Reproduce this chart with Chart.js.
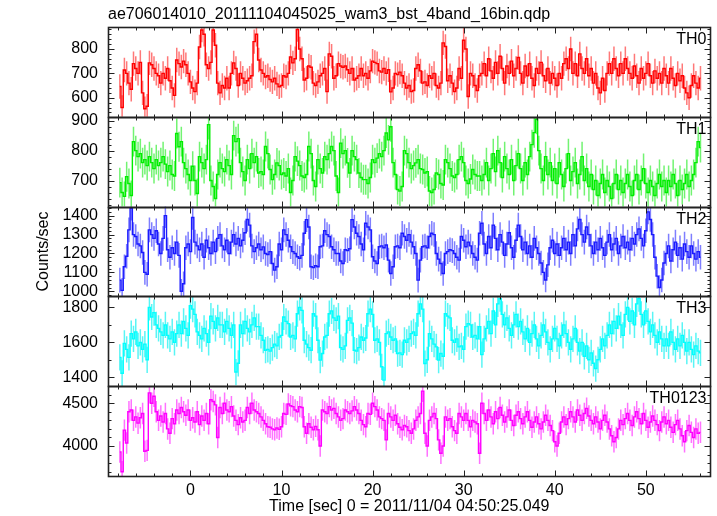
<!DOCTYPE html>
<html>
<head>
<meta charset="utf-8">
<script src="https://cdn.jsdelivr.net/npm/chart.js@4.4.1/dist/chart.umd.min.js"></script>
<style>
  html, body { margin: 0; padding: 0; background: #fff; }
  canvas { display: block; }
</style>
</head>
<body>
<canvas id="c" width="717" height="516"></canvas>
<script>
// light curve, 0.25 s bins starting at -7.75 s
const T0 = -7.75;
const BIN = 0.25;

const panelNames = ['TH0', 'TH1', 'TH2', 'TH3', 'TH0123'];

const th0 = [
  646,560,714,700,660,635,740,720,700,745,620,555,565,743,735,720,
  700,690,660,700,680,720,670,640,610,755,740,726,750,735,700,665,
  640,625,660,808,878,860,735,720,745,878,815,660,620,650,640,680,
  640,700,743,720,650,700,680,660,670,680,690,830,860,755,714,700,
  685,690,675,665,680,657,645,650,690,685,700,767,743,760,880,800,
  760,673,680,730,725,660,650,665,690,700,720,625,780,770,680,690,
  740,730,725,730,715,700,720,673,680,690,720,690,700,680,710,750,
  745,740,710,705,720,700,715,624,640,700,695,705,690,660,640,650,
  625,630,720,735,710,660,665,650,690,680,700,650,640,660,825,810,
  670,690,660,625,640,720,680,836,800,605,700,690,650,630,690,700,
  740,690,760,710,680,745,700,770,720,660,730,700,750,690,720,765,
  700,660,730,690,740,680,650,720,700,745,690,670,720,660,700,680,
  650,700,680,740,760,720,800,700,740,690,780,720,700,760,690,720,
  660,700,640,620,680,630,700,740,700,760,720,690,740,700,760,720,
  700,680,730,690,660,720,680,700,740,690,660,710,680,700,660,720,
  690,660,720,680,650,700,670,690,640,620,600,650,690,660,640,680
];

const th1 = [
  693,660,647,713,690,650,830,800,780,790,760,770,750,780,760,740,
  770,750,760,780,755,730,750,720,715,857,813,830,760,740,720,700,
  748,700,657,780,760,740,770,887,700,680,640,720,760,740,730,770,
  750,720,850,830,840,760,730,700,770,740,790,760,780,725,730,720,
  814,790,737,703,720,759,750,720,725,715,740,660,700,780,765,750,
  715,710,720,814,790,700,680,770,740,725,780,770,790,814,800,715,
  660,825,790,800,759,725,800,780,770,725,710,703,703,690,710,770,
  760,775,790,780,800,859,836,880,760,720,670,665,680,800,790,760,
  740,750,759,770,740,737,725,730,665,660,670,725,720,690,685,770,
  760,740,715,710,720,770,780,760,700,690,705,737,720,715,715,700,
  720,760,700,740,790,730,800,760,710,780,740,720,770,700,750,790,
  740,700,760,720,780,820,860,905,800,740,700,780,720,760,700,740,
  690,760,720,680,740,790,700,730,760,690,720,780,700,740,680,720,
  670,700,650,690,720,660,700,680,640,690,720,670,700,660,690,720,
  680,650,700,720,670,700,740,690,660,700,680,650,690,720,680,700,
  660,700,680,720,690,650,700,670,690,720,680,700,720,760,830,810
];

const th2 = [
  1059,1005,1130,1185,1325,1440,1300,1290,1250,1240,1205,1100,1090,1325,1300,1280,
  1320,1250,1200,1280,1400,1220,1180,1230,1200,1260,1190,1000,1040,1230,1250,1210,
  1390,1260,1240,1220,1250,1180,1270,1230,1200,1260,1210,1280,1300,1240,1220,1270,
  1200,1260,1300,1250,1280,1240,1270,1310,1380,1350,1240,1210,1230,1250,1220,1235,
  1200,1195,1210,1147,1112,1130,1250,1220,1325,1300,1270,1236,1210,1200,1183,1175,
  1190,1307,1379,1340,1130,1125,1135,1130,1236,1240,1320,1300,1290,1236,1220,1200,
  1200,1160,1147,1220,1215,1225,1379,1340,1307,1290,1250,1220,1360,1340,1325,1183,
  1160,1147,1236,1240,1230,1245,1165,1094,1130,1236,1240,1230,1307,1290,1270,1300,
  1260,1236,1200,1059,1165,1236,1240,1230,1290,1307,1300,1200,1170,1147,1094,1200,
  1210,1220,1215,1200,1180,1165,1290,1270,1236,1260,1240,1200,1180,1165,1307,1360,
  1250,1200,1290,1230,1350,1280,1220,1300,1260,1190,1250,1310,1230,1180,1270,1350,
  1290,1220,1260,1200,1240,1180,1280,1230,1200,1150,1100,1060,1140,1230,1270,1200,
  1250,1190,1230,1280,1220,1260,1200,1300,1240,1330,1380,1300,1260,1340,1300,1240,
  1200,1260,1220,1280,1230,1190,1260,1300,1220,1250,1280,1200,1240,1290,1230,1260,
  1220,1280,1250,1300,1330,1280,1240,1320,1420,1380,1300,1180,1080,1020,1060,1150,
  1200,1240,1160,1220,1260,1190,1230,1170,1250,1210,1180,1240,1200,1170,1210,1180
];

const th3 = [
  1514,1423,1594,1560,1514,1650,1620,1660,1580,1600,1560,1590,1500,1800,1745,1770,
  1700,1680,1660,1640,1700,1640,1620,1660,1600,1650,1700,1650,1720,1680,1640,1810,
  1790,1760,1660,1640,1620,1680,1650,1600,1750,1720,1680,1740,1700,1700,1660,1720,
  1680,1640,1700,1430,1480,1700,1650,1720,1680,1660,1700,1740,1690,1690,1640,1612,
  1555,1560,1550,1570,1590,1580,1631,1640,1745,1720,1707,1631,1640,1620,1764,1800,
  1783,1612,1590,1570,1555,1764,1750,1612,1498,1536,1631,1640,1764,1780,1740,1726,
  1750,1570,1560,1580,1726,1740,1710,1555,1550,1570,1631,1612,1625,1764,1790,1760,
  1612,1620,1600,1460,1384,1650,1660,1631,1612,1620,1536,1540,1530,1612,1600,1620,
  1650,1660,1640,1764,1820,1790,1479,1500,1650,1620,1590,1574,1498,1536,1520,1764,
  1750,1740,1612,1600,1620,1574,1580,1560,1690,1707,1700,1631,1640,1620,1690,1530,
  1620,1680,1720,1650,1780,1700,1820,1850,1760,1700,1740,1680,1640,1700,1760,1690,
  1720,1660,1620,1680,1600,1650,1700,1620,1580,1640,1700,1660,1600,1560,1620,1680,
  1620,1580,1640,1700,1650,1600,1560,1620,1680,1600,1550,1600,1520,1580,1500,1540,
  1480,1450,1500,1560,1620,1580,1640,1700,1650,1720,1680,1750,1700,1640,1760,1800,
  1720,1780,1700,1820,1850,1760,1700,1780,1720,1660,1700,1640,1600,1660,1620,1580,
  1620,1580,1660,1600,1560,1620,1580,1640,1600,1550,1600,1560,1530,1580,1550,1540
];

const th0123 = [
  3930,3700,4186,4035,4400,4420,4300,4340,4267,4330,4380,3940,3950,4620,4500,4580,
  4400,4300,4350,4280,4380,4200,4150,4320,4260,4420,4380,4450,4400,4360,4420,4300,
  4330,4280,4400,4250,4350,4300,4380,4260,4540,4520,4480,4100,4450,4380,4500,4420,
  4400,4460,4350,4300,4250,4330,4280,4300,4450,4380,4500,4420,4400,4380,4340,4300,
  4260,4226,4220,4200,4190,4210,4195,4226,4380,4370,4490,4470,4460,4420,4400,4460,
  4450,4226,4150,4260,4220,4190,4230,4190,4000,4420,4400,4380,4460,4420,4440,4380,
  4340,4300,4320,4420,4400,4380,4410,4460,4420,4380,4300,4250,4226,4380,4370,4500,
  4460,4420,4340,4320,4300,4072,4380,4340,4300,4360,4260,4220,4190,4240,4226,4180,
  4150,4200,4300,4340,4380,4640,4150,4000,4300,4340,4380,4320,4072,3917,4000,4340,
  4300,4320,4226,4180,4150,4380,4340,4300,4380,4300,4226,4300,4280,4260,3917,4500,
  4380,4300,4420,4340,4260,4400,4320,4450,4360,4280,4340,4420,4300,4240,4360,4400,
  4320,4260,4340,4400,4300,4220,4280,4340,4260,4200,4280,4360,4300,4240,4180,4050,
  4000,4150,4280,4340,4250,4320,4400,4340,4280,4420,4360,4300,4380,4440,4350,4300,
  4260,4340,4280,4200,4300,4360,4280,4200,4120,4050,4100,4200,4300,4250,4320,4380,
  4300,4240,4340,4400,4320,4260,4380,4300,4220,4280,4350,4300,4250,4180,4280,4340,
  4260,4300,4220,4160,4250,4300,4200,4120,4050,4180,4240,4160,4100,4200,4150,4160
];

const series = [th0, th1, th2, th3, th0123];

// half length of the error bars (counts/sec)
const errHalf = [50, 50, 65, 75, 125];

// axis ranges and tick labels
const xMin = -9.05, xMax = 57.1;
const xTickLabels = [0, 10, 20, 30, 40, 50];
const yMin = [522, 613, 973, 1349, 3651];
const yMax = [890, 913, 1448, 1863, 4698];
const yTickLabels = [
  [600, 700, 800],
  [700, 800, 900],
  [1000, 1100, 1200, 1300, 1400],
  [1400, 1600, 1800],
  [4000, 4500]
];
const yMinorStep = [20, 20, 20, 100, 100];
const yMajorStep = [100, 100, 100, 200, 500];

const lineColors = ['#ff0000', '#00ee00', '#1a1aff', '#00ffff', '#ff00ff'];
const errColors = ['rgba(255,30,30,0.6)', 'rgba(20,235,20,0.6)', 'rgba(40,40,255,0.6)',
                   'rgba(0,240,240,0.65)', 'rgba(255,20,255,0.6)'];

const FONT = "'Liberation Sans', Arial, Helvetica, sans-serif";

const panels = {
  id: 'panels',
  beforeDatasetDraw(chart, args) {
    const k = args.index;
    const ds = chart.data.datasets[k];
    const y = chart.scales[ds.yAxisID];
    const x = chart.scales.x;
    const ctx = chart.ctx;
    ctx.save();
    ctx.beginPath();
    ctx.rect(chart.chartArea.left, y.top, chart.chartArea.width, y.bottom - y.top);
    ctx.clip();
    ctx.strokeStyle = errColors[k];
    ctx.lineWidth = 1.5;
    ctx.beginPath();
    ds.data.forEach(p => {
      const px = x.getPixelForValue(p.x);
      ctx.moveTo(px, y.getPixelForValue(p.y - errHalf[k]));
      ctx.lineTo(px, y.getPixelForValue(p.y + errHalf[k]));
    });
    ctx.stroke();
  },
  afterDatasetDraw(chart) {
    chart.ctx.restore();
  },
  afterDraw(chart) {
    const { ctx, chartArea: a, scales } = chart;
    const x = scales.x;
    ctx.save();
    ctx.strokeStyle = '#222';
    const seg = (x1, y1, x2, y2) => { ctx.moveTo(x1, y1); ctx.lineTo(x2, y2); };

    panelNames.forEach((name, k) => {
      const y = scales['y' + k];
      const top = Math.round(y.top) + 0.5, bot = Math.round(y.bottom) + 0.5;
      const left = Math.round(a.left) + 0.5, right = Math.round(a.right) - 0.5;
      ctx.lineWidth = 1;
      ctx.beginPath();
      // time ticks, major every 10 s, minor every 2 s
      for (let t = -8; t <= xMax; t += 2) {
        const px = Math.round(x.getPixelForValue(t)) + 0.5;
        const len = t % 10 === 0 ? 6 : 3;
        seg(px, top, px, top + len);
        seg(px, bot, px, bot - len);
      }
      // rate ticks
      const st = yMinorStep[k];
      for (let v = Math.ceil(y.min / st) * st; v <= y.max; v += st) {
        const py = Math.round(y.getPixelForValue(v)) + 0.5;
        const len = v % yMajorStep[k] === 0 ? 6 : 3;
        seg(left, py, left + len, py);
        seg(right, py, right - len, py);
      }
      ctx.stroke();
      ctx.lineWidth = 1.6;
      ctx.strokeRect(left, top, right - left, bot - top);

      ctx.fillStyle = '#000';
      ctx.font = '16px ' + FONT;
      ctx.textAlign = 'right';
      ctx.textBaseline = 'alphabetic';
      ctx.fillText(name, a.right - 4, y.top + 17);
    });

    ctx.fillStyle = '#000';
    ctx.font = '16px ' + FONT;
    ctx.textAlign = 'left';
    ctx.textBaseline = 'alphabetic';
    ctx.fillText('ae706014010_20111104045025_wam3_bst_4band_16bin.qdp', a.left, 19);

    ctx.textAlign = 'center';
    ctx.fillText('Time [sec] 0 = 2011/11/04 04:50:25.049', (a.left + a.right) / 2, 511);

    ctx.translate(48, (a.top + a.bottom) / 2);
    ctx.rotate(-Math.PI / 2);
    ctx.fillText('Counts/sec', 0, 0);
    ctx.restore();
  }
};

const scales = {
  x: {
    type: 'linear',
    min: xMin,
    max: xMax,
    grid: { display: false, drawTicks: false },
    border: { display: false },
    ticks: { color: '#000', font: { family: FONT, size: 16 }, padding: 5, maxRotation: 0, autoSkip: false,
             callback: v => String(v) },
    afterBuildTicks: s => { s.ticks = xTickLabels.map(v => ({ value: v })); },
    afterFit: s => { s.height = 40; }
  }
};
panelNames.forEach((name, k) => {
  scales['y' + k] = {
    type: 'linear',
    position: 'left',
    stack: 'rates',
    stackWeight: 1,
    weight: 10 - k,
    min: yMin[k],
    max: yMax[k],
    grid: { display: false, drawTicks: false },
    border: { display: false },
    ticks: { color: '#000', font: { family: FONT, size: 16 }, padding: 10, autoSkip: false,
             callback: v => String(v) },
    afterBuildTicks: s => { s.ticks = yTickLabels[k].map(v => ({ value: v })); },
    afterFit: s => { s.width = 108; }
  };
});

const datasets = series.map((vals, k) => ({
  label: panelNames[k],
  yAxisID: 'y' + k,
  data: vals.map((v, i) => ({ x: T0 + i * BIN, y: v })),
  borderColor: lineColors[k],
  borderWidth: 1.4,
  stepped: 'middle',
  pointRadius: 0,
  fill: false
}));

new Chart(document.getElementById('c').getContext('2d'), {
  type: 'line',
  data: { datasets },
  options: {
    responsive: false,
    animation: false,
    layout: { padding: { top: 27, right: 6.5, left: 0, bottom: 0 } },
    scales,
    plugins: {
      legend: { display: false },
      tooltip: { enabled: false },
      title: { display: false }
    }
  },
  plugins: [panels]
});
</script>
</body>
</html>
